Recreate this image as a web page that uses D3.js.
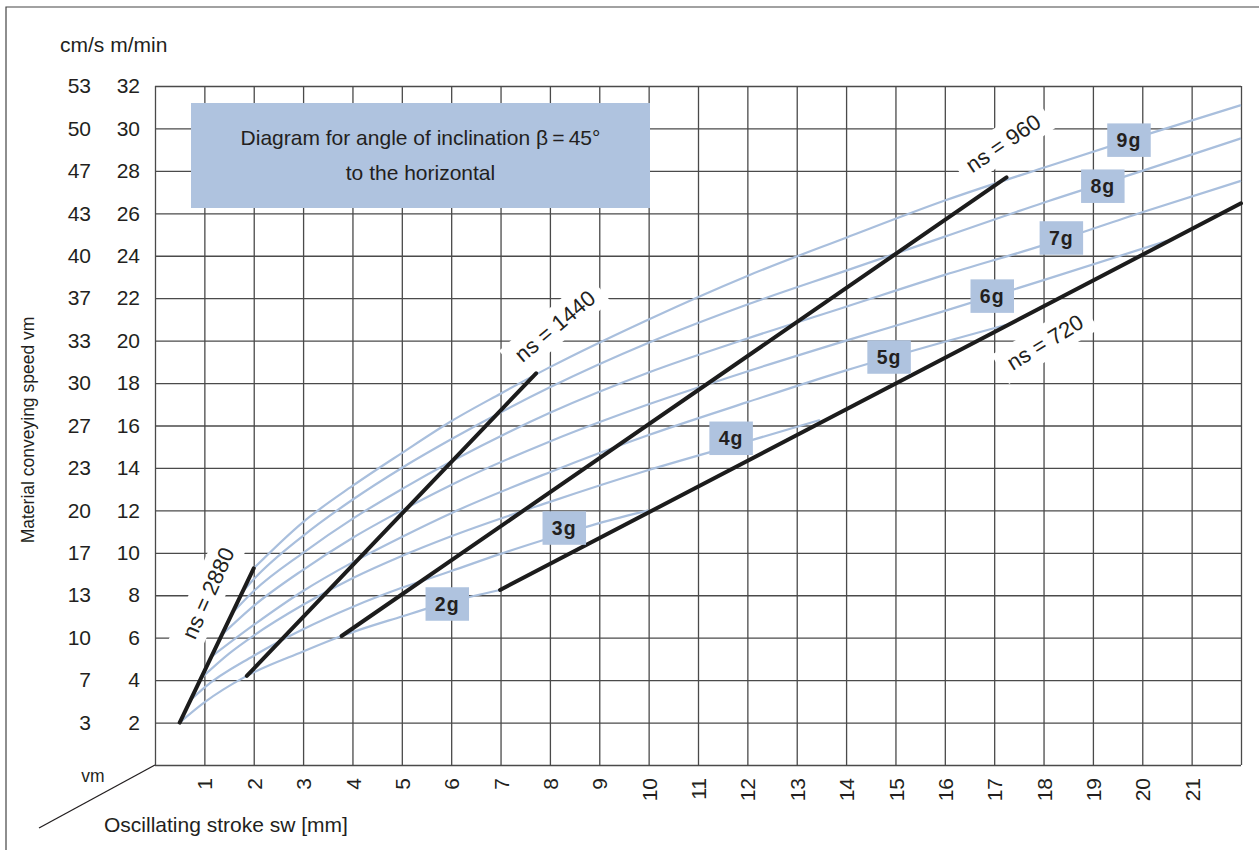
<!DOCTYPE html>
<html>
<head>
<meta charset="utf-8">
<script src="https://cdn.jsdelivr.net/npm/d3@7"></script>
<style>
  html, body { margin: 0; padding: 0; background: #fff; }
  svg { display: block; }
  text { font-family: "Liberation Sans", Arial, sans-serif; fill: #231f20; }
</style>
</head>
<body>
<svg id="chart" width="1259" height="850"></svg>
<script>
// ---------------- data ----------------
const strokeTicks = d3.range(1, 22);                         // sw [mm]
const speedTicks  = [2,4,6,8,10,12,14,16,18,20,22,24,26,28,30,32]; // m/min
const cmsTicks    = [3,7,10,13,17,20,23,27,30,33,37,40,43,47,50,53]; // cm/s

const gNames = ["2g","3g","4g","5g","6g","7g","8g","9g"];
const g2 = [[0.5,2.0],[1.0,2.95],[1.86,4.2],[3.0,5.35],[3.78,6.08],[5.0,7.0],[6.0,7.7],[6.99,8.25]];
const g3 = [[0.71,3.04],[1.0,3.65],[2.0,5.15],[3.0,6.4],[4.0,7.45],[5.0,8.35],[6.0,9.14],[7.0,9.95],[8.0,10.7],[9.0,11.4],[10.0,12.0]];
const g4 = [[0.93,4.08],[1.5,5.25],[2.0,6.1],[3.0,7.55],[4.0,8.8],[5.0,9.85],[6.0,10.78],[8.0,12.4],[10.0,13.9],[12.0,15.25],[13.47,16.26]];
const g5 = [[1.14,5.1],[2.0,6.6],[3.0,8.2],[4.0,9.55],[5.0,10.75],[6.0,11.87],[8.0,13.8],[10.0,15.55],[12.0,17.1],[14.0,18.6],[16.0,19.95],[17.25,20.75]];
const g6 = [[1.36,6.15],[2.0,7.5],[3.0,9.2],[4.0,10.7],[5.0,12.0],[6.0,13.2],[8.0,15.25],[10.0,17.0],[12.0,18.55],[14.0,20.0],[16.0,21.4],[18.0,22.85],[20.5,24.7]];
const g7 = [[1.57,7.17],[2.0,8.2],[3.0,10.0],[4.0,11.6],[5.0,13.0],[6.0,14.3],[8.0,16.6],[10.0,18.5],[12.0,20.1],[14.0,21.6],[16.0,23.1],[18.0,24.5],[20.0,26.05],[22.0,27.53]];
const g8 = [[1.79,8.2],[2.0,8.75],[3.0,10.8],[4.0,12.5],[5.0,14.0],[6.0,15.35],[8.0,17.8],[10.0,19.9],[12.0,21.7],[14.0,23.3],[16.0,24.9],[18.0,26.5],[20.0,28.0],[22.0,29.53]];
const g9 = [[2.0,9.27],[3.0,11.45],[4.0,13.15],[5.0,14.7],[6.0,16.2],[7.0,17.5],[8.0,18.75],[10.0,21.0],[12.0,23.05],[14.0,24.85],[16.0,26.6],[18.0,28.15],[20.0,29.65],[22.0,31.1]];
const gCurves = [g2,g3,g4,g5,g6,g7,g8,g9];
// where each g label sits (sw, vm)
const gLabelAt = [[5.92,7.59],[8.29,11.17],[11.67,15.4],[14.87,19.23],[16.96,22.1],[18.36,24.84],[19.2,27.28],[19.73,29.45]];

const nsNames = ["ns = 2880","ns = 1440","ns = 960","ns = 720"];
const ns2880 = [[0.5,2.0],[2.0,9.27]];
const ns1440 = [[1.86,4.2],[7.72,18.46]];
const ns960  = [[3.78,6.08],[17.25,27.69]];
const ns720  = [[6.99,8.25],[22.0,26.47]];
const nsLines = [ns2880, ns1440, ns960, ns720];
const nsLabelAt = [[1.074,8.1],[8.1,20.69],[17.18,29.31],[18.03,19.93]];
const nsLabelAngle = [-65.8,-40,-34.3,-31.5];

// ---------------- chart ----------------
const svg = d3.select("#chart");
const W = 1259, H = 850;
svg.append("rect").attr("width", W).attr("height", H).attr("fill", "#fff");

// outer frame (top + left)
svg.append("path").attr("d", `M6,850 V7 H${W}`).attr("fill","none").attr("stroke","#444").attr("stroke-width",1.2);

const x = d3.scaleLinear().domain([0, 22]).range([155, 1241]);
const y = d3.scaleLinear().domain([0, 32]).range([765, 86]);

const gridColor = "#4a4a4a";
// vertical grid
const gx = svg.append("g").attr("transform", `translate(0,${y(0)})`)
  .call(d3.axisBottom(x).tickValues(d3.range(0, 23)).tickSize(-(y(0) - y(32))).tickFormat(""));
gx.select(".domain").remove();
gx.selectAll("line").attr("stroke", gridColor).attr("stroke-width", 1.3);
// horizontal grid
const gy = svg.append("g").attr("transform", `translate(${x(0)},0)`)
  .call(d3.axisLeft(y).tickValues(d3.range(0, 33, 2)).tickSize(-(x(22) - x(0))).tickFormat(""));
gy.select(".domain").remove();
gy.selectAll("line").attr("stroke", gridColor).attr("stroke-width", 1.3);

// title box
svg.append("rect").attr("x", 191).attr("y", 103).attr("width", 459).attr("height", 105).attr("fill", "#afc3df");
svg.append("text").attr("x", 420.5).attr("y", 145).attr("text-anchor","middle").attr("font-size", 21)
  .text("Diagram for angle of inclination \u03B2\u2009=\u200945°");
svg.append("text").attr("x", 420.5).attr("y", 180).attr("text-anchor","middle").attr("font-size", 21)
  .text("to the horizontal");

// g curves
const line = d3.line().x(d => x(d[0])).y(d => y(d[1])).curve(d3.curveMonotoneX);
svg.append("g").selectAll("path").data(gCurves).join("path")
  .attr("d", line).attr("fill","none").attr("stroke","#a9bfdd").attr("stroke-width", 2.2);

// ns label white backgrounds + lines + labels
const nsG = svg.append("g");
const straight = d3.line().x(d => x(d[0])).y(d => y(d[1]));
nsLines.forEach((pts, i) => {
  const [lx, ly] = nsLabelAt[i];
  const g = svg.append("g").attr("transform", `translate(${x(lx)},${y(ly)}) rotate(${nsLabelAngle[i]})`);
  const bg = g.append("rect").attr("fill", "#fff");
  const t = g.append("text").attr("text-anchor","middle").attr("dy","0.35em").attr("font-size", 22).text(nsNames[i]);
  const len = t.node().getComputedTextLength();
  bg.attr("x", -len/2 - 10).attr("y", -17).attr("width", len + 20).attr("height", 34);
});
svg.append("g").selectAll("path").data(nsLines).join("path")
  .attr("d", straight).attr("fill","none").attr("stroke","#1c1c1c").attr("stroke-width", 4).attr("stroke-linecap","round");

// g label boxes
const lab = svg.append("g").selectAll("g").data(gNames).join("g")
  .attr("transform", (d, i) => `translate(${x(gLabelAt[i][0])},${y(gLabelAt[i][1])})`);
lab.append("rect").attr("x", -21.7).attr("y", -16.7).attr("width", 43.5).attr("height", 33.5).attr("fill", "#afc3df");
lab.append("text").attr("text-anchor","middle").attr("dy","0.36em").attr("font-size", 19.5)
  .attr("font-weight","bold").attr("letter-spacing", 1).text(d => d);

// x axis labels (rotated)
const ax = svg.append("g").attr("transform", `translate(0,${y(0)})`)
  .call(d3.axisBottom(x).tickValues(strokeTicks).tickSize(0).tickFormat(d3.format("d")));
ax.select(".domain").remove();
ax.selectAll("text").attr("transform","rotate(-90)").attr("text-anchor","end")
  .attr("x", -13).attr("y", 0).attr("dy","0.36em").attr("font-size", 21)
  .attr("font-family", '"Liberation Sans", Arial, sans-serif').attr("fill", "#231f20");

// y axis labels: m/min
const ay = svg.append("g").attr("transform", `translate(${x(0)},0)`)
  .call(d3.axisLeft(y).tickValues(speedTicks).tickSize(0).tickPadding(15).tickFormat(d3.format("d")));
ay.select(".domain").remove();
ay.selectAll("text").attr("font-size", 21).attr("font-family", '"Liberation Sans", Arial, sans-serif').attr("fill", "#231f20");
// y axis labels: cm/s
const ay2 = svg.append("g").attr("transform", `translate(${x(0)},0)`)
  .call(d3.axisLeft(y).tickValues(speedTicks).tickSize(0).tickPadding(64)
    .tickFormat((d, i) => cmsTicks[i]));
ay2.select(".domain").remove();
ay2.selectAll("text").attr("font-size", 21).attr("font-family", '"Liberation Sans", Arial, sans-serif').attr("fill", "#231f20");

// unit header
svg.append("text").attr("x", 60).attr("y", 52).attr("font-size", 21).text("cm/s m/min");

// y title
svg.append("text").attr("transform", "translate(34,430) rotate(-90)").attr("text-anchor","middle")
  .attr("font-size", 17.5).text("Material conveying speed vm");

// bottom-left: vm + diagonal + x title
svg.append("text").attr("x", 93).attr("y", 782).attr("text-anchor","middle").attr("font-size", 17.5).text("vm");
svg.append("line").attr("x1", x(0)).attr("y1", y(0)).attr("x2", 39).attr("y2", 828)
  .attr("stroke", "#231f20").attr("stroke-width", 1.3);
svg.append("text").attr("x", 104).attr("y", 832).attr("font-size", 21).text("Oscillating stroke sw [mm]");
</script>
</body>
</html>
